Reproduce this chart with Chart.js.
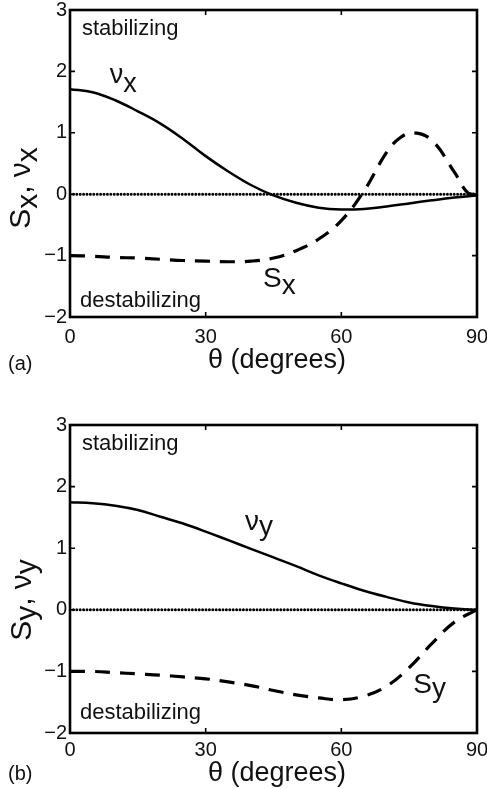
<!DOCTYPE html>
<html><head><meta charset="utf-8">
<script src="https://cdn.jsdelivr.net/npm/chart.js@4.4.0/dist/chart.umd.min.js"></script>
<style>
html,body{margin:0;padding:0;background:#fff;}
#wrap{position:relative;width:487px;height:789px;overflow:hidden;}
.panel{position:absolute;left:0;width:487px;}
</style></head><body>
<div id="wrap">
<div class="panel" style="top:0;height:395px"><canvas id="ca"></canvas></div>
<div class="panel" style="top:395px;height:394px"><canvas id="cb"></canvas></div>
</div>
<script>
// ---- data ----
const theta = [0,5,10,15,20,25,30,35,40,45,50,55,60,65,70,75,80,85,90];
const nuX = [1.71,1.66,1.53,1.35,1.15,0.90,0.62,0.37,0.15,-0.02,-0.14,-0.22,-0.25,-0.24,-0.20,-0.15,-0.10,-0.055,-0.02];
const thetaSX = [0,5,10,15,20,25,30,35,40,45,50,55,60,65,70,73,76,80,85,88,90];
const sX = [-1.0,-1.01,-1.03,-1.04,-1.06,-1.08,-1.09,-1.10,-1.09,-1.04,-0.92,-0.73,-0.43,0.05,0.68,0.92,1.0,0.88,0.36,0.02,0.0];
const nuY = [1.745,1.73,1.69,1.62,1.51,1.40,1.27,1.13,0.99,0.85,0.71,0.56,0.43,0.31,0.21,0.12,0.06,0.02,0.0];
const sY = [-1.0,-1.0,-1.02,-1.04,-1.06,-1.09,-1.12,-1.17,-1.23,-1.31,-1.38,-1.43,-1.46,-1.40,-1.24,-0.94,-0.55,-0.20,0.0];
const zeroTheta = [0,90];
const zeroVals = [0,0];
const xTicks = [0,30,60,90];
const yTicks = [-2,-1,0,1,2,3];

const FONT = "'Liberation Sans', Arial, Helvetica, sans-serif";
const pts = (xs, ys) => xs.map((x,i)=>({x:x, y:ys[i]}));

function datasets(nu, xsS, s){
  return [
    {data: pts(zeroTheta, zeroVals), borderColor:'#000', borderWidth:3, borderDash:[0,3.4], borderCapStyle:'round', pointRadius:0, fill:false},
    {data: pts(theta, nu), borderColor:'#000', borderWidth:2.5, pointRadius:0, tension:0.4, fill:false},
    {data: pts(xsS, s), borderColor:'#000', borderWidth:3.2, borderDash:[15,10], pointRadius:0, tension:0.4, fill:false}
  ];
}

function drawRich(ctx, x, y, parts, size){
  ctx.font = size + 'px ' + FONT;
  let cx = x;
  parts.forEach(p=>{ ctx.fillText(p.t, cx, y + (p.dy||0)); cx += ctx.measureText(p.t).width; });
}
function richWidth(ctx, parts, size){
  ctx.font = size + 'px ' + FONT;
  return parts.reduce((w,p)=>w+ctx.measureText(p.t).width,0);
}

function makePlugin(opt){
  return {
    id:'deco',
    afterDraw(chart){
      const {ctx, chartArea:a, scales:{x, y}} = chart;
      ctx.save();
      // inside tick marks on all four sides
      ctx.strokeStyle='#000'; ctx.lineWidth=1.6;
      const L=5;
      ctx.beginPath();
      xTicks.forEach(v=>{const p=x.getPixelForValue(v); ctx.moveTo(p,a.bottom); ctx.lineTo(p,a.bottom-L); ctx.moveTo(p,a.top); ctx.lineTo(p,a.top+L);});
      yTicks.forEach(v=>{const p=y.getPixelForValue(v); ctx.moveTo(a.left,p); ctx.lineTo(a.left+L,p); ctx.moveTo(a.right,p); ctx.lineTo(a.right-L,p);});
      ctx.stroke();
      ctx.lineWidth=2.6;
      ctx.strokeRect(a.left, a.top, a.right-a.left, a.bottom-a.top);
      // in-plot labels (data-anchored)
      ctx.fillStyle='#111'; ctx.textBaseline='alphabetic'; ctx.textAlign='left';
      opt.labels.forEach(l=>{
        drawRich(ctx, x.getPixelForValue(l.x), y.getPixelForValue(l.y), l.parts, l.size);
      });
      // x title
      const xt=[{t:'θ (degrees)'}];
      const w = richWidth(ctx, xt, 27);
      drawRich(ctx, opt.xTitleCx - w/2, a.bottom + opt.xTitleDy, xt, 27);
      // panel tag
      drawRich(ctx, 8, a.bottom + opt.tagDy, [{t:opt.tag}], 20);
      // y title, rotated
      ctx.save();
      ctx.translate(opt.yTitleBx, opt.yTitleCy);
      ctx.rotate(-Math.PI/2);
      const yw = richWidth(ctx, opt.yTitle, 30);
      drawRich(ctx, -yw/2, 0, opt.yTitle, 30);
      ctx.restore();
      ctx.restore();
    }
  };
}

function makeChart(id, nu, xsS, s, cfg){
  return new Chart(document.getElementById(id), {
    type:'line',
    data:{datasets: datasets(nu, xsS, s)},
    options:{
      responsive:true, maintainAspectRatio:false, animation:false,
      layout:{padding:{top:cfg.padTop, right:10, left:0, bottom:0}},
      plugins:{legend:{display:false}, tooltip:{enabled:false}},
      scales:{
        x:{type:'linear', min:0, max:90,
           afterBuildTicks(s){ s.ticks = xTicks.map(v=>({value:v})); },
           afterFit(s){ s.height = cfg.xAxisH; s.paddingLeft = 0; s.paddingRight = 0; },
           grid:{display:false, drawTicks:false}, border:{display:false},
           ticks:{color:'#111', font:{family:FONT, size:20, lineHeight:1}, padding:cfg.xTickPad, maxRotation:0, autoSkip:false}},
        y:{type:'linear', min:-2, max:3,
           afterBuildTicks(s){ s.ticks = yTicks.map(v=>({value:v})); },
           afterFit(s){ s.width = 70; s.paddingTop = 0; s.paddingBottom = 0; },
           grid:{display:false, drawTicks:false}, border:{display:false},
           ticks:{color:'#111', font:{family:FONT, size:20, lineHeight:1}, padding:3,
                  callback:v=>String(v).replace('-','\u2212')}}
      }
    },
    plugins:[makePlugin(cfg)]
  });
}

makeChart('ca', nuX, thetaSX, sX, {
  padTop:10, xAxisH:78, xTickPad:10,
  xTitleCx:277, xTitleDy:51, tagDy:53, tag:'(a)',
  yTitleBx:30, yTitleCy:188,
  yTitle:[{t:'S'},{t:'x',dy:7},{t:', ν'},{t:'x',dy:7}],
  labels:[
    {x:2.65, y:2.59, size:22, parts:[{t:'stabilizing'}]},
    {x:2.2, y:-1.83, size:22, parts:[{t:'destabilizing'}]},
    {x:8.8, y:1.806, size:27, parts:[{t:'ν'},{t:'x',dy:9}]},
    {x:42.7, y:-1.506, size:28, parts:[{t:'S'},{t:'x',dy:7}]}
  ]
});
makeChart('cb', nuY, theta, sY, {
  padTop:30, xAxisH:56, xTickPad:7,
  xTitleCx:277, xTitleDy:48, tagDy:47, tag:'(b)',
  yTitleBx:31, yTitleCy:205,
  yTitle:[{t:'S'},{t:'y',dy:5},{t:', ν'},{t:'y',dy:5}],
  labels:[
    {x:2.65, y:2.59, size:22, parts:[{t:'stabilizing'}]},
    {x:2.2, y:-1.78, size:22, parts:[{t:'destabilizing'}]},
    {x:38.7, y:1.29, size:28, parts:[{t:'ν'},{t:'y',dy:5}]},
    {x:75.9, y:-1.343, size:28, parts:[{t:'S'},{t:'y',dy:4}]}
  ]
});
</script>
</body></html>
